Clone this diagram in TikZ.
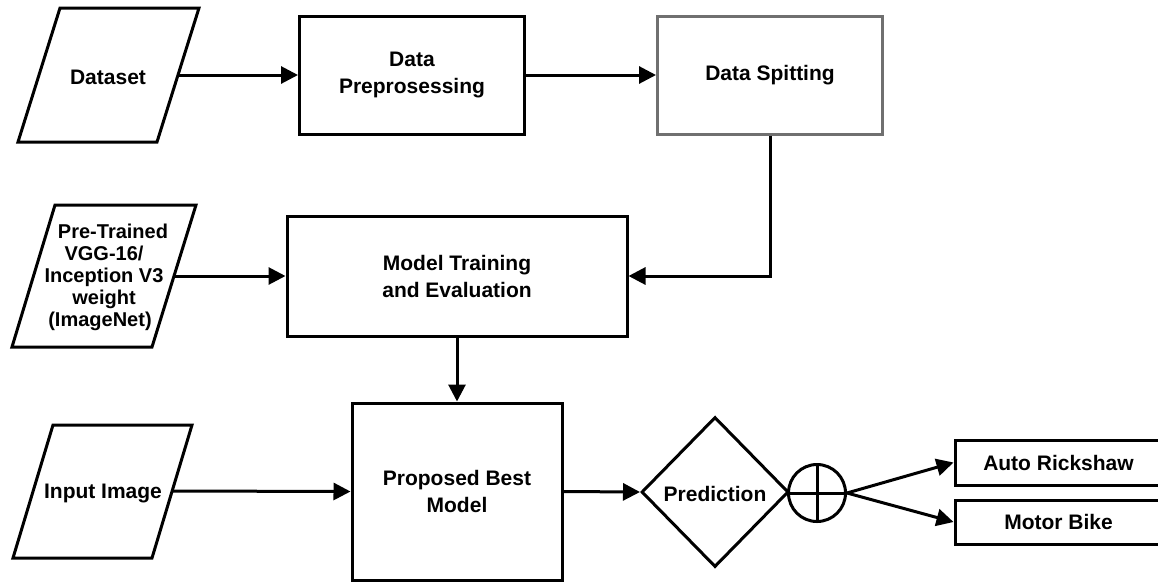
\documentclass[tikz,border=0pt]{standalone}
\usepackage{fontspec}
\setmainfont{Liberation Sans}
\usetikzlibrary{shapes.geometric,arrows.meta}
\begin{document}
\begin{tikzpicture}[x=1pt,y=-1pt,
  txt/.style={font=\bfseries\fontsize{21}{27}\selectfont, align=center, text=black},
  box/.style={txt, draw, line width=3pt, inner sep=0pt},
  para/.style={draw, line width=3pt, line join=miter},
  arr/.style={line width=3pt, -{Triangle[length=17pt,width=17pt]}}]
\useasboundingbox (0,0) rectangle (1158,582);
% input parallelograms
\draw[para] (18,142) -- (60,8) -- (199,8) -- (157,142) -- cycle;
\node[txt] (dataset) at (108,77) {Dataset};
\coordinate (datasetR) at (178,75);
\draw[para] (12,347) -- (55,205) -- (196,205) -- (152,347) -- cycle;
\node[txt, font=\bfseries\fontsize{20}{22}\selectfont] (pre) at (104,277) {\hspace*{18pt}Pre-Trained\\VGG-16/\\Inception V3\\weight\\\hspace*{-8pt}(ImageNet)};
\coordinate (preR) at (174,276);
\draw[para] (13,558) -- (53,425) -- (192,425) -- (152,558) -- cycle;
\node[txt] (input) at (103,493) {Input Image};
\coordinate (inputR) at (172,491);
% boxes
\node[box, minimum width=225, minimum height=118] (prep) at (412,75) {Data\\Preprosessing};
\node[box, draw=black!56, minimum width=225, minimum height=118] (spit) at (770,75) {Data Spitting};
\node[box, minimum width=340, minimum height=120] (model) at (457,276) {Model Training\\and Evaluation};
\node[box, minimum width=210, minimum height=177] (prop) at (457,491.5) {Proposed Best\\Model};
\node[diamond, draw, line width=3pt, minimum width=147, minimum height=150, inner sep=0pt] (pred) at (715,492) {};
\node[txt] (predt) at (715,494) {Prediction};
\node[circle, draw, line width=3pt, minimum size=57, inner sep=0pt] (xor) at (817,493) {};
\draw[line width=3pt] (xor.north) -- (xor.south) (xor.west) -- (xor.east);
\node[box, minimum width=207, minimum height=45] (auto) at (1058.5,462.5) {Auto Rickshaw};
\node[box, minimum width=207, minimum height=44] (motor) at (1058.5,522) {Motor Bike};
% connectors
\draw[arr] (datasetR) -- (prep.west);
\draw[arr] (prep.east) -- (spit.west);
\draw[arr] (spit.south) |- (model.east);
\draw[arr] (preR) -- (model.west);
\draw[arr] (model.south) -- (prop.north);
\draw[arr] (inputR) -- (prop.west);
\draw[arr] (prop.east) -- (pred.west);
\draw[arr] (xor.east) -- (auto.west);
\draw[arr] (xor.east) -- (motor.west);
\end{tikzpicture}
\end{document}
